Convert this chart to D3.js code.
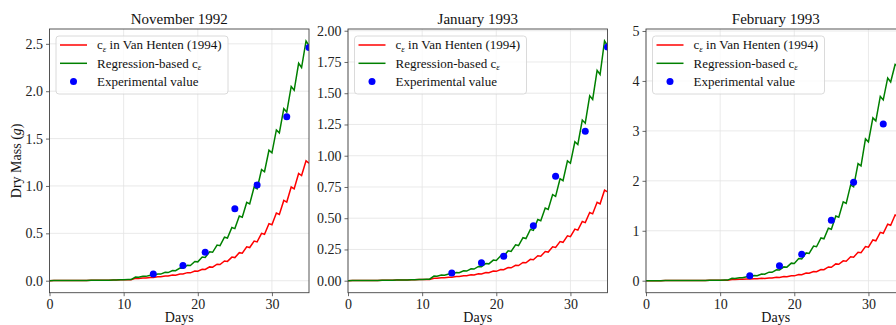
<!DOCTYPE html>
<html>
<head>
<meta charset="utf-8">
<script src="https://cdn.jsdelivr.net/npm/d3@7"></script>
<style>
  body { margin: 0; background: #fff; }
  svg { display: block; font-family: "Liberation Serif", "DejaVu Serif", serif; }
</style>
</head>
<body>
<div id="chart"></div>
<script>
// ---- data ----
const titles = ['November 1992', 'January 1993', 'February 1993'];
const days = d3.range(0, 36);
const xTicks = [0, 10, 20, 30];

// values before transplant (days 0..10), same for both model runs
const preValues = [0.000, 0.001, 0.001, 0.002, 0.002, 0.003, 0.004, 0.005, 0.006, 0.008, 0.010];
const prePeaks = [0.001, 0.001, 0.002, 0.002, 0.003, 0.004, 0.005, 0.006, 0.008, 0.010];

// dawn values for days 11..35 and afternoon peaks for days 10..34
const novRed = [0.011, 0.024, 0.028, 0.034, 0.041, 0.049, 0.058, 0.070, 0.083, 0.100, 0.119, 0.143, 0.171, 0.204, 0.244, 0.290, 0.350, 0.410, 0.490, 0.590, 0.700, 0.830, 0.970, 1.110, 1.240];
const novRedPeak = [0.011, 0.025, 0.029, 0.035, 0.042, 0.050, 0.059, 0.071, 0.085, 0.102, 0.121, 0.146, 0.174, 0.208, 0.249, 0.296, 0.357, 0.418, 0.500, 0.602, 0.714, 0.847, 0.989, 1.132, 1.265];
const novGreen = [0.012, 0.037, 0.046, 0.057, 0.070, 0.086, 0.106, 0.131, 0.161, 0.199, 0.245, 0.300, 0.370, 0.450, 0.550, 0.670, 0.810, 0.970, 1.150, 1.350, 1.560, 1.780, 2.010, 2.250, 2.480];
const novGreenPeak = [0.012, 0.038, 0.047, 0.058, 0.071, 0.088, 0.108, 0.134, 0.164, 0.203, 0.250, 0.306, 0.377, 0.459, 0.561, 0.683, 0.826, 0.989, 1.173, 1.377, 1.591, 1.816, 2.050, 2.295, 2.530];

const janRed = [0.010, 0.019, 0.023, 0.028, 0.033, 0.039, 0.046, 0.054, 0.064, 0.075, 0.088, 0.103, 0.121, 0.143, 0.168, 0.196, 0.229, 0.266, 0.307, 0.352, 0.405, 0.465, 0.535, 0.615, 0.710];
const janRedPeak = [0.010, 0.019, 0.023, 0.028, 0.034, 0.040, 0.047, 0.055, 0.065, 0.077, 0.090, 0.105, 0.123, 0.146, 0.171, 0.200, 0.234, 0.271, 0.313, 0.359, 0.413, 0.474, 0.546, 0.627, 0.724];
const janGreen = [0.012, 0.036, 0.044, 0.053, 0.064, 0.077, 0.093, 0.112, 0.135, 0.162, 0.195, 0.234, 0.281, 0.337, 0.403, 0.480, 0.570, 0.675, 0.800, 0.940, 1.090, 1.260, 1.450, 1.650, 1.880];
const janGreenPeak = [0.012, 0.037, 0.045, 0.054, 0.065, 0.079, 0.095, 0.114, 0.138, 0.165, 0.199, 0.239, 0.287, 0.344, 0.411, 0.490, 0.581, 0.689, 0.816, 0.959, 1.112, 1.285, 1.479, 1.683, 1.918];

const febRed = [0.010, 0.024, 0.028, 0.033, 0.039, 0.046, 0.055, 0.066, 0.080, 0.097, 0.120, 0.150, 0.180, 0.220, 0.270, 0.330, 0.390, 0.470, 0.560, 0.670, 0.800, 0.950, 1.110, 1.290, 1.500];
const febRedPeak = [0.010, 0.024, 0.029, 0.034, 0.040, 0.047, 0.056, 0.067, 0.082, 0.099, 0.122, 0.153, 0.184, 0.224, 0.275, 0.337, 0.398, 0.479, 0.571, 0.683, 0.816, 0.969, 1.132, 1.316, 1.530];
const febGreen = [0.012, 0.046, 0.060, 0.078, 0.100, 0.130, 0.168, 0.215, 0.272, 0.345, 0.435, 0.545, 0.680, 0.840, 1.030, 1.270, 1.550, 1.880, 2.300, 2.780, 3.200, 3.620, 3.980, 4.300, 4.700];
const febGreenPeak = [0.012, 0.047, 0.061, 0.080, 0.102, 0.133, 0.171, 0.219, 0.277, 0.352, 0.444, 0.556, 0.694, 0.857, 1.051, 1.295, 1.581, 1.918, 2.346, 2.840, 3.260, 3.690, 4.060, 4.330, 4.800];

const expDays = [14, 18, 21, 25, 28, 32, 35];
const novExp = [0.07, 0.16, 0.30, 0.76, 1.01, 1.73, 2.46];
const janExp = [0.062, 0.143, 0.196, 0.44, 0.836, 1.196, 1.87];
const febExp = [0.10, 0.30, 0.53, 1.21, 1.97, 3.14, 4.55];

const novTicks = [0, 0.5, 1.0, 1.5, 2.0, 2.5];
const janTicks = [0, 0.25, 0.5, 0.75, 1.0, 1.25, 1.5, 1.75, 2.0];
const febTicks = [0, 1, 2, 3, 4, 5];
const tickFormats = ['.1f', '.2f', 'd'];

const panels = [
  { red: novRed, redPeak: novRedPeak, green: novGreen, greenPeak: novGreenPeak, exp: novExp, ticks: novTicks },
  { red: janRed, redPeak: janRedPeak, green: janGreen, greenPeak: janGreenPeak, exp: janExp, ticks: janTicks },
  { red: febRed, redPeak: febRedPeak, green: febGreen, greenPeak: febGreenPeak, exp: febExp, ticks: febTicks }
];

// ---- layout ----
const W = 896, H = 325;
const lefts = [49.5, 348, 646];
const pw = 259.5, plotTop = 29, ph = 263.7;
const peakOffset = 0.6;

const svg = d3.select('#chart').append('svg')
  .attr('width', W)
  .attr('height', H);

// turn dawn / peak arrays into a zig-zag path
function series(dawn, peak) {
  const v = preValues.concat(dawn);
  const p = prePeaks.concat(peak);
  const pts = [];
  days.forEach(d => {
    pts.push([d, v[d]]);
    if (d < 35) pts.push([d + peakOffset, p[d]]);
  });
  return pts;
}

panels.forEach((pn, i) => {
  const redPts = series(pn.red, pn.redPeak);
  const greenPts = series(pn.green, pn.greenPeak);
  const ymax = d3.max(greenPts.concat(redPts).map(p => p[1]).concat(pn.exp));
  const pad = ymax * 0.05;

  const x = d3.scaleLinear().domain([0, 35]).range([0, pw]);
  const y = d3.scaleLinear().domain([-pad, ymax + pad]).range([ph, 0]);

  const g = svg.append('g')
    .attr('transform', `translate(${lefts[i]}, ${plotTop})`);

  g.append('clipPath').attr('id', 'clip' + i)
    .append('rect').attr('width', pw).attr('height', ph);

  // grid
  g.append('g').selectAll('line').data(xTicks).join('line')
    .attr('x1', d => x(d)).attr('x2', d => x(d))
    .attr('y1', 0).attr('y2', ph)
    .attr('stroke', '#e3e3e3').attr('stroke-width', 0.8);
  g.append('g').selectAll('line').data(pn.ticks).join('line')
    .attr('x1', 0).attr('x2', pw)
    .attr('y1', d => y(d)).attr('y2', d => y(d))
    .attr('stroke', '#e3e3e3').attr('stroke-width', 0.8);

  // axes
  const xAxis = g.append('g')
    .attr('transform', `translate(0, ${ph})`)
    .call(d3.axisBottom(x).tickValues(xTicks).tickSize(3.5).tickPadding(3).tickFormat(d3.format('d')));
  const yAxis = g.append('g')
    .call(d3.axisLeft(y).tickValues(pn.ticks).tickSize(3.5).tickPadding(3).tickFormat(d3.format(tickFormats[i])));
  [xAxis, yAxis].forEach(a => {
    a.select('.domain').remove();
    a.selectAll('.tick line').attr('stroke', '#444').attr('stroke-width', 0.8);
    a.selectAll('.tick text')
      .attr('fill', '#222')
      .style('font-size', '14px')
      .style('font-family', '"Liberation Serif", serif');
  });

  // model lines + measurements
  const line = d3.line().x(d => x(d[0])).y(d => y(d[1]));
  const plot = g.append('g').attr('clip-path', `url(#clip${i})`);
  plot.append('path').datum(redPts)
    .attr('d', line).attr('fill', 'none')
    .attr('stroke', '#ff0000').attr('stroke-width', 1.5);
  plot.append('path').datum(greenPts)
    .attr('d', line).attr('fill', 'none')
    .attr('stroke', '#008000').attr('stroke-width', 1.5);
  plot.selectAll('circle').data(expDays.map((d, k) => [d, pn.exp[k]])).join('circle')
    .attr('cx', d => x(d[0])).attr('cy', d => y(d[1]))
    .attr('r', 3.5).attr('fill', '#0000ff');

  // frame
  g.append('rect')
    .attr('width', pw).attr('height', ph)
    .attr('fill', 'none').attr('stroke', '#444').attr('stroke-width', 0.9);

  // title + x label
  g.append('text')
    .attr('x', pw / 2).attr('y', -5.5)
    .attr('text-anchor', 'middle')
    .style('font-size', '15px').attr('fill', '#111')
    .text(titles[i]);
  g.append('text')
    .attr('x', pw / 2).attr('y', ph + 29)
    .attr('text-anchor', 'middle')
    .style('font-size', '14px').attr('fill', '#111')
    .text('Days');

  // legend
  const lg = g.append('g').attr('transform', 'translate(6.5, 7)');
  lg.append('rect')
    .attr('width', 172).attr('height', 58).attr('rx', 3)
    .attr('fill', 'white').attr('fill-opacity', 0.8)
    .attr('stroke', '#d0d0d0').attr('stroke-width', 0.8);
  const rows = [
    { type: 'line', color: '#ff0000' },
    { type: 'line', color: '#008000' },
    { type: 'dot', color: '#0000ff' }
  ];
  rows.forEach((r, k) => {
    const ry = 9 + k * 18.3;
    if (r.type === 'line') {
      lg.append('line').attr('x1', 4).attr('x2', 31).attr('y1', ry).attr('y2', ry)
        .attr('stroke', r.color).attr('stroke-width', 1.5);
    } else {
      lg.append('circle').attr('cx', 17.5).attr('cy', ry).attr('r', 3.5).attr('fill', r.color);
    }
    const t = lg.append('text').attr('x', 41).attr('y', ry + 4.3)
      .style('font-size', '13px').attr('fill', '#111');
    if (k === 0) {
      t.append('tspan').text('c');
      t.append('tspan').attr('dy', 2.5).style('font-size', '9px').style('font-style', 'italic').text('ε');
      t.append('tspan').attr('dy', -2.5).text(' in Van Henten (1994)');
    } else if (k === 1) {
      t.append('tspan').text('Regression-based c');
      t.append('tspan').attr('dy', 2.5).style('font-size', '9px').style('font-style', 'italic').text('ε');
    } else {
      t.text('Experimental value');
    }
  });
});

// y label
const yl = svg.append('text')
  .attr('transform', `translate(21, ${plotTop + ph / 2}) rotate(-90)`)
  .attr('text-anchor', 'middle')
  .style('font-size', '14px').attr('fill', '#111');
yl.append('tspan').text('Dry Mass (');
yl.append('tspan').style('font-style', 'italic').text('g');
yl.append('tspan').text(')');
</script>
</body>
</html>
